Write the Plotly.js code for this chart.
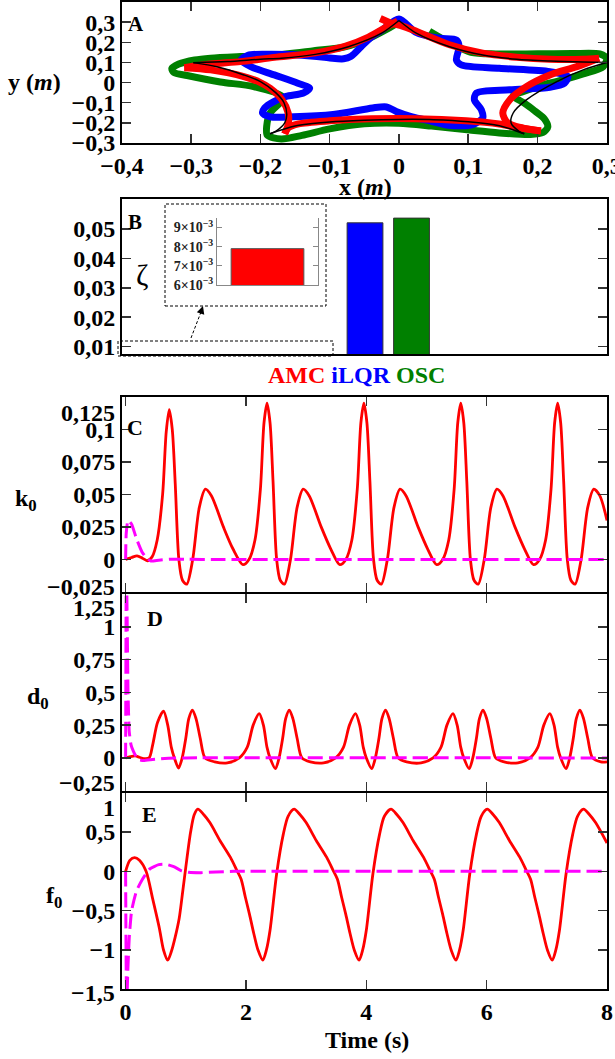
<!DOCTYPE html>
<html><head><meta charset="utf-8">
<script src="https://cdn.plot.ly/plotly-3.0.1.min.js"></script>
<style>html,body{margin:0;padding:0;background:#fff}#chart{width:615px;height:1059px}</style>
</head><body><div id="chart"></div>
<script>
// ---------- Panel A : end-effector paths (m) ----------
const refX = [0,-0.025,-0.073,-0.121,-0.17,-0.2,-0.248,-0.297, null,
  -0.297,-0.263,-0.224,-0.2,-0.178,-0.166,-0.162,-0.165,-0.177,-0.186, null,
  -0.186,-0.15,-0.1,-0.05,0,0.05,0.1,0.145,0.181, null,
  0.181,0.174,0.162,0.165,0.184,0.228,0.266,0.3, null,
  0.3,0.266,0.218,0.17,0.121,0.073,0.025,0];
const refY = [0.308,0.245,0.178,0.14,0.121,0.116,0.104,0.099, null,
  0.099,0.079,0.038,0.005,-0.05,-0.1,-0.16,-0.2,-0.24,-0.254, null,
  -0.254,-0.216,-0.196,-0.187,-0.183,-0.184,-0.194,-0.214,-0.254, null,
  -0.254,-0.243,-0.201,-0.151,-0.086,0.005,0.063,0.1, null,
  0.1,0.102,0.107,0.116,0.137,0.178,0.245,0.308];
const amcX = [-0.027,-0.012,0.003,0.025,0.073,0.121,0.17,0.218,0.266,0.289, null,
  0.289,0.257,0.218,0.184,0.16,0.15,0.157,0.179,0.205, null,
  0.205,0.17,0.145,0.097,0.025,-0.04,-0.1,-0.145,-0.16,-0.165, null,
  -0.165,-0.16,-0.16,-0.169,-0.186,-0.2,-0.224,-0.272,-0.31, null,
  -0.31,-0.272,-0.229,-0.18,-0.123,-0.078,-0.044,-0.016,-0.002];
const amcY = [0.318,0.296,0.283,0.255,0.188,0.146,0.126,0.116,0.116,0.121, null,
  0.121,0.079,0.038,-0.02,-0.086,-0.151,-0.2,-0.226,-0.24, null,
  -0.24,-0.222,-0.206,-0.19,-0.179,-0.18,-0.19,-0.205,-0.225,-0.255, null,
  -0.255,-0.208,-0.151,-0.085,-0.028,0.0,0.03,0.063,0.074, null,
  0.074,0.092,0.104,0.125,0.146,0.18,0.226,0.28,0.305];
const ilqrX = [0,-0.024,-0.041,-0.055,-0.069,-0.08,-0.1,-0.123,-0.157,-0.191,-0.218,-0.228,-0.214,-0.18,-0.146,-0.129,-0.138,-0.163,-0.18,-0.194,-0.197,-0.186,-0.152,-0.095,-0.038,-0.018,-0.004,0.019,0.047,0.072,0.106,0.121,0.119,0.109,0.112,0.16,0.218,0.239,0.244,0.218,0.145,0.09,0.083,0.087,0.083,0.058,0.024,0];
const ilqrY = [0.316,0.262,0.223,0.177,0.131,0.118,0.122,0.131,0.139,0.141,0.136,0.111,0.079,0.038,-0.003,-0.028,-0.052,-0.069,-0.093,-0.126,-0.151,-0.17,-0.17,-0.159,-0.126,-0.121,-0.143,-0.17,-0.192,-0.212,-0.209,-0.176,-0.135,-0.086,-0.052,-0.036,-0.023,-0.003,0.03,0.054,0.071,0.088,0.112,0.178,0.211,0.22,0.251,0.316];
const oscX = [0.044,0.076,0.104,0.14,0.2,0.25,0.29,0.3,0.295,0.266,0.237,0.208,0.179,0.165,0.18,0.194,0.21,0.215,0.208,0.19,0.145,0.102,0.047,0.0,-0.05,-0.1,-0.14,-0.17,-0.19,-0.191,-0.186,-0.172,-0.168,-0.21,-0.258,-0.306,-0.325,-0.328,-0.318,-0.295,-0.272,-0.229,-0.18,-0.123,-0.078,-0.044,-0.02,-0.005];
const oscY = [0.255,0.193,0.15,0.142,0.143,0.144,0.142,0.12,0.079,0.043,0.013,-0.011,-0.045,-0.065,-0.1,-0.135,-0.18,-0.22,-0.248,-0.258,-0.25,-0.236,-0.216,-0.202,-0.205,-0.23,-0.262,-0.28,-0.262,-0.216,-0.151,-0.1,-0.07,-0.02,0.003,0.035,0.05,0.07,0.092,0.112,0.121,0.129,0.136,0.158,0.177,0.218,0.26,0.29];
const aXTicks = [-0.4,-0.3,-0.2,-0.1,0,0.1,0.2,0.3];
const aYTicks = [-0.3,-0.2,-0.1,0,0.1,0.2,0.3];

// ---------- Panel B : zeta ----------
const methods = ['AMC','iLQR','OSC'];
const zeta = [0.0079, 0.0521, 0.0537];
const bTicks = [0.01,0.02,0.03,0.04,0.05];
const insetTicks = [0.006,0.007,0.008,0.009];
const insetTickText = ['6×10<sup>−3</sup>','7×10<sup>−3</sup>','8×10<sup>−3</sup>','9×10<sup>−3</sup>'];

// ---------- Panels C-E : time series ----------
const tTicks = [0,2,4,6,8];
const kT = [0,0.1,0.19,0.28,0.36,0.44,0.525,0.615,0.675,0.725,0.775,0.825,0.885,0.945,1.015,1.115,1.225,1.325,1.425,1.625,1.785,
  1.95,2.05,2.15,2.24,2.30,2.35,2.40,2.45,2.51,2.57,2.64,2.74,2.85,2.95,3.05,3.25,3.41,
  3.56,3.66,3.76,3.85,3.91,3.96,4.01,4.06,4.12,4.18,4.25,4.35,4.46,4.56,4.66,4.86,5.02,
  5.17,5.27,5.37,5.46,5.52,5.57,5.62,5.67,5.73,5.79,5.86,5.96,6.07,6.17,6.27,6.47,6.63,
  6.78,6.88,6.98,7.07,7.13,7.18,7.23,7.28,7.34,7.40,7.47,7.57,7.68,7.78,7.88,8.0];
const kAMC = [0,0.0015,0.0028,0.001,-0.001,0.002,0.015,0.05,0.098,0.115,0.1,0.058,0.0,-0.016,-0.019,0.0,0.04,0.054,0.049,0.025,0.008,
  -0.004,0.0,0.015,0.054,0.105,0.12,0.105,0.06,0.0,-0.016,-0.019,0.0,0.04,0.054,0.049,0.025,0.008,
  -0.004,0.0,0.015,0.054,0.105,0.12,0.105,0.06,0.0,-0.016,-0.019,0.0,0.04,0.054,0.049,0.025,0.008,
  -0.004,0.0,0.015,0.054,0.105,0.12,0.105,0.06,0.0,-0.016,-0.019,0.0,0.04,0.054,0.049,0.025,0.008,
  -0.004,0.0,0.015,0.054,0.105,0.12,0.105,0.06,0.0,-0.016,-0.019,0.0,0.04,0.054,0.049,0.03];
const kT2 = [0,0.01,0.04,0.1,0.18,0.27,0.35,0.42,0.55,0.75,1.0,1.5,8];
const kInit = [0,0.02,0.03,0.027,0.016,0.006,0.001,-0.0012,-0.0006,0.0002,0.0001,0,0];

const dT = [0,0.08,0.16,0.23,0.3,0.39,0.45,0.53,0.63,0.7,0.76,0.81,0.88,0.94,1.0,1.05,1.11,1.17,1.24,1.32,1.48,
  1.69,1.89,2.02,2.12,2.22,2.29,2.35,2.40,2.49,2.55,2.61,2.66,2.72,2.78,2.85,2.93,3.07,
  3.29,3.49,3.62,3.72,3.82,3.89,3.95,4.00,4.09,4.15,4.21,4.26,4.32,4.38,4.45,4.53,4.67,
  4.91,5.11,5.24,5.34,5.44,5.51,5.57,5.62,5.71,5.77,5.83,5.88,5.94,6.00,6.07,6.15,6.29,
  6.52,6.72,6.85,6.95,7.05,7.12,7.18,7.23,7.32,7.38,7.44,7.49,7.55,7.61,7.68,7.76,7.9,8.0];
const dAMC = [0,0.01,0.015,0.005,-0.005,0.0,0.1,0.27,0.357,0.25,0.08,0.0,-0.077,0.0,0.15,0.3,0.365,0.3,0.15,0.0,-0.03,
  -0.038,0.0,0.08,0.25,0.337,0.25,0.08,0.0,-0.082,0.0,0.15,0.3,0.365,0.3,0.15,0.0,-0.03,
  -0.038,0.0,0.08,0.25,0.337,0.25,0.08,0.0,-0.082,0.0,0.15,0.3,0.365,0.3,0.15,0.0,-0.03,
  -0.038,0.0,0.08,0.25,0.337,0.25,0.08,0.0,-0.082,0.0,0.15,0.3,0.365,0.3,0.15,0.0,-0.03,
  -0.038,0.0,0.08,0.25,0.337,0.25,0.08,0.0,-0.082,0.0,0.15,0.3,0.365,0.3,0.15,0.0,-0.03,-0.03];
const dT2 = [0,0.012,0.025,0.04,0.06,0.09,0.13,0.2,0.3,0.45,0.65,1.0,8];
const dInit = [0,1.5,1.1,0.5,0.2,0.1,0.05,-0.01,-0.02,-0.012,-0.004,0,0];

const fT = [0,0.07,0.15,0.23,0.34,0.45,0.56,0.63,0.7,0.76,0.82,0.89,0.95,1.0,1.08,1.14,1.2,
  1.3,1.4,1.57,1.74,1.85,1.92,1.99,2.06,2.13,2.2,2.28,2.34,2.4,2.51,2.62,2.7,2.8,
  2.9,3.0,3.17,3.34,3.45,3.52,3.59,3.66,3.73,3.8,3.88,3.94,4.0,4.11,4.22,4.3,4.41,
  4.51,4.61,4.78,4.95,5.06,5.13,5.2,5.27,5.34,5.41,5.49,5.55,5.61,5.72,5.83,5.91,6.01,
  6.11,6.21,6.38,6.55,6.66,6.73,6.8,6.87,6.94,7.01,7.09,7.15,7.21,7.32,7.43,7.51,7.61,
  7.71,7.81,8.0];
const fAMC = [0,0.14,0.175,0.14,0.0,-0.35,-0.72,-1.0,-1.13,-1.02,-0.85,-0.6,-0.25,0.05,0.5,0.72,0.79,
  0.72,0.62,0.39,0.18,0.01,-0.1,-0.33,-0.55,-0.79,-1.0,-1.13,-1.0,-0.75,-0.03,0.47,0.7,0.79,
  0.72,0.62,0.39,0.18,0.01,-0.1,-0.33,-0.55,-0.79,-1.0,-1.13,-1.0,-0.75,-0.03,0.47,0.7,0.79,
  0.72,0.62,0.39,0.18,0.01,-0.1,-0.33,-0.55,-0.79,-1.0,-1.13,-1.0,-0.75,-0.03,0.47,0.7,0.79,
  0.72,0.62,0.39,0.18,0.01,-0.1,-0.33,-0.55,-0.79,-1.0,-1.13,-1.0,-0.75,-0.03,0.47,0.7,0.79,
  0.72,0.62,0.36];
const fT2 = [0,0.01,0.02,0.035,0.06,0.1,0.18,0.28,0.4,0.55,0.68,0.8,0.92,1.05,1.25,1.5,1.8,8];
const fInit = [0,-1.3,-1.7,-1.3,-0.85,-0.5,-0.25,-0.1,0.03,0.085,0.088,0.06,0.01,-0.012,-0.017,-0.008,0,0];

const cTicks = [-0.025,0,0.025,0.05,0.075,0.1,0.125];
const dTicks = [-0.25,0,0.25,0.5,0.75,1,1.25];
const eTicks = [-1.5,-1,-0.5,0,0.5,1];

// ---------- drawing ----------
const W = 615, H = 1059, X0 = 122, X1 = 607, LW = 2;
const F = '"Liberation Serif", "Times New Roman", serif';
const RED = '#ff0000', BLUE = '#0000ff', GREEN = '#008000', MAG = '#ff00ff';
const xd = [X0/W, X1/W];
const dom = (top, bot) => [1 - bot/H, 1 - top/H];
const fmt = v => (v < 0 ? '\u2212' : '') + String(Math.abs(v)).replace('.', ',');
const inner = ticks => ticks.map((v,i) => (i===0 || i===ticks.length-1) ? ' ' : fmt(v));

const ax = {showline:true, linecolor:'#000', linewidth:LW, mirror:'ticks', ticks:'inside', ticklen:9,
  tickwidth:1.5, tickcolor:'#333', showgrid:false, zeroline:false, fixedrange:true, ticklabeloverflow:'allow',
  tickfont:{family:F, size:24, color:'#000', weight:'bold'}};

const pathLine = (x, y, color, w, xa, ya) => ({type:'scatter', mode:'lines', x, y, xaxis:xa, yaxis:ya,
  connectgaps:false, line:{color, width:w, shape:'spline', smoothing:0.8}, hoverinfo:'skip'});
const dashLine = (x, y, xa, ya, sm) => ({type:'scatter', mode:'lines', x, y, xaxis:xa, yaxis:ya,
  line:{color:MAG, width:3, dash:'15px,6px', shape:'spline', smoothing:sm}, hoverinfo:'skip'});

const traces = [
  pathLine(oscX, oscY, GREEN, 7, 'x', 'y'),
  pathLine(ilqrX, ilqrY, BLUE, 7, 'x', 'y'),
  pathLine(amcX, amcY, RED, 7, 'x', 'y'),
  pathLine(refX, refY, '#000', 1.5, 'x', 'y'),
  {type:'bar', x:methods.slice(1), y:zeta.slice(1), xaxis:'x2', yaxis:'y2', width:0.77,
   marker:{color:[BLUE, GREEN], line:{color:'#333', width:1}}, hoverinfo:'skip'},
  {type:'bar', x:methods.slice(0,1), y:zeta.slice(0,1), xaxis:'x6', yaxis:'y6', width:0.72,
   marker:{color:RED, line:{color:'#555', width:1}}, hoverinfo:'skip'},
  pathLine(kT, kAMC, RED, 2.8, 'x3', 'y3'),
  dashLine(kT2, kInit, 'x3', 'y3', 0.5),
  pathLine(dT, dAMC, RED, 2.8, 'x4', 'y4'),
  dashLine(dT2, dInit, 'x4', 'y4', 0.4),
  pathLine(fT, fAMC, RED, 2.8, 'x5', 'y5'),
  dashLine(fT2, fInit, 'x5', 'y5', 0.5)
];

// stacked panels overlap by one line width so the shared borders coincide
const cTop = 396.7, cd = 593, de = 791.7, eBot = 989.3;
const tr = [-0.06, 8];
const layout = {
  width: W, height: H, margin:{l:0, r:0, t:0, b:0, pad:0},
  paper_bgcolor:'#fff', plot_bgcolor:'rgba(0,0,0,0)', showlegend:false, separators:',.',
  font:{family:F, color:'#000'},
  xaxis: Object.assign({}, ax, {domain:xd, range:[-0.4,0.3005], tickvals:aXTicks, anchor:'y'}),
  yaxis: Object.assign({}, ax, {domain:dom(2,143), range:[-0.3,0.4], tickvals:aYTicks, anchor:'x'}),
  xaxis2: Object.assign({}, ax, {domain:xd, type:'category', categoryarray:methods.slice(1), range:[-5.226,5.204],
    ticks:'', showticklabels:false, mirror:true, anchor:'y2'}),
  yaxis2: Object.assign({}, ax, {domain:dom(199,354), range:[0.0075,0.0602], tickvals:bTicks, anchor:'x2'}),
  xaxis3: Object.assign({}, ax, {domain:xd, range:tr, tickvals:tTicks, showticklabels:false, anchor:'y3'}),
  yaxis3: Object.assign({}, ax, {domain:dom(cTop, cd - LW/2), range:[-0.025,0.125], tickvals:cTicks, ticktext:inner(cTicks), anchor:'x3'}),
  xaxis4: Object.assign({}, ax, {domain:xd, range:tr, tickvals:tTicks, showticklabels:false, anchor:'y4'}),
  yaxis4: Object.assign({}, ax, {domain:dom(cd + LW/2, de - LW/2), range:[-0.25,1.25], tickvals:dTicks, ticktext:inner(dTicks), anchor:'x4'}),
  xaxis5: Object.assign({}, ax, {domain:xd, range:tr, tickvals:tTicks, anchor:'y5'}),
  yaxis5: Object.assign({}, ax, {domain:dom(de + LW/2, eBot), range:[-1.5,1], tickvals:eTicks, ticktext:inner(eTicks), anchor:'x5'}),
  xaxis6: {domain:[217/W, 318/W], type:'category', range:[-0.5,0.5], anchor:'y6', showline:true, linecolor:'#888',
    linewidth:1, ticks:'', showticklabels:false, showgrid:false, zeroline:false, fixedrange:true},
  yaxis6: {domain:dom(218,285), range:[0.006,0.0095], anchor:'x6', tickvals:insetTicks, ticktext:insetTickText,
    showline:true, linecolor:'#888', linewidth:1, mirror:'ticks', ticks:'inside', ticklen:5, tickcolor:'#888',
    showgrid:false, zeroline:false, fixedrange:true, tickfont:{family:F, size:14, color:'#222', weight:'bold'}},
  shapes: [
    {type:'rect', xref:'paper', yref:'paper', x0:165/W, x1:326/W, y0:1-306/H, y1:1-204/H, line:{color:'#000', width:1, dash:'3px,2px'}},
    {type:'rect', xref:'paper', yref:'paper', x0:118/W, x1:333/W, y0:1-356/H, y1:1-341/H, line:{color:'#000', width:1, dash:'3px,2px'}},
    {type:'line', xref:'paper', yref:'paper', x0:191/W, y0:1-338/H, x1:201/W, y1:1-312/H, line:{color:'#000', width:1, dash:'3px,2px'}}
  ],
  annotations: []
};

const txt = (text, x, y, size, extra) => Object.assign({text, x:x/W, y:1-y/H, xref:'paper', yref:'paper',
  showarrow:false, xanchor:'center', yanchor:'middle',
  font:{family:F, size, color:'#000', weight:'bold'}}, extra || {});
const A = layout.annotations;
A.push(txt('A', 136, 24, 21), txt('B', 135, 222, 21), txt('C', 135, 427, 22), txt('D', 155, 618, 22), txt('E', 149, 814, 22));
A.push(txt('y (<i>m</i>)', 34, 82, 24), txt('x (<i>m</i>)', 365, 187, 24), txt('Time (s)', 367, 1040, 24));
A.push(txt('ζ', 142, 275, 30, {font:{family:F, size:30, color:'#000', weight:'normal'}}));
A.push(txt('k<sub>0</sub>', 26, 500, 24), txt('d<sub>0</sub>', 38, 698, 24), txt('f<sub>0</sub>', 54, 897, 24));
A.push(txt('<span style="color:'+RED+'">AMC</span> <span style="color:'+BLUE+'">iLQR</span> <span style="color:'+GREEN+'">OSC</span>', 356, 375, 24));
// shifted end labels of the stacked panels
const endLab = (v, y) => txt(fmt(v), 117, y, 24, {xanchor:'right'});
A.push(endLab(cTicks[6], 413), endLab(cTicks[0], 587), endLab(dTicks[6], 608), endLab(dTicks[0], 783), endLab(eTicks[5], 808), endLab(eTicks[0], 993));
// arrow head of the zoom pointer
A.push({text:'', x:203/W, y:1-306/H, xref:'paper', yref:'paper', showarrow:true, ax:-3, ay:9,
  arrowhead:2, arrowsize:1.3, arrowwidth:1.2, arrowcolor:'#000'});

Plotly.newPlot('chart', traces, layout, {displayModeBar:false, staticPlot:true});
</script></body></html>
